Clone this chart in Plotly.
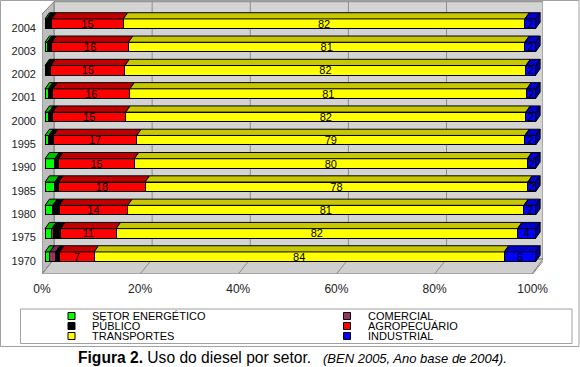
import plotly.graph_objects as go

# ---------------- data ----------------
years = ["1970", "1975", "1980", "1985", "1990", "1995", "2000", "2001", "2002", "2003", "2004"]
setor_energetico = [1.0, 1.4, 1.6, 2.0, 2.0, 0.8, 0.8, 0.7, 0.0, 0.5, 0.35]
comercial = [1.2, 0.3, 0, 0, 0, 0, 0, 0, 0, 0, 0]
publico = [0.8, 1.5, 1.3, 0.8, 0.8, 0.9, 0.75, 0.9, 1.2, 0.9, 1.0]
agropecuario = [7.0, 11.3, 13.95, 17.6, 15.4, 17.0, 14.9, 15.7, 15.1, 15.6, 14.6]
transportes = [83.6, 81.8, 80.75, 78.0, 80.1, 79.1, 81.55, 80.9, 81.7, 80.8, 81.85]
industrial = [6.4, 3.7, 2.4, 1.6, 1.7, 2.2, 2.0, 1.8, 2.0, 2.2, 2.2]
x_ticks = [0, 20, 40, 60, 80, 100]
x_tick_labels = ["0%", "20%", "40%", "60%", "80%", "100%"]

FONT = "Liberation Sans, Arial, sans-serif"

series = [
    ("SETOR ENERGÉTICO", setor_energetico, "#00ff00", "#00c000", False),
    ("COMERCIAL", comercial, "#993366", "#7a2952", False),
    ("PÚBLICO", publico, "#000000", "#000000", False),
    ("AGROPECUÁRIO", agropecuario, "#ff0000", "#c00000", True),
    ("TRANSPORTES", transportes, "#ffff00", "#c8c800", True),
    ("INDUSTRIAL", industrial, "#0000ff", "#0000c8", True),
]

# geometry (pixels -> axis units)
W, H = 580, 367
L, R, T, B = 42, 543, 1, 274
XMIN, XMAX = -0.611, 101.49
YMIN, YMAX = -0.742, 10.974
BW = 0.41      # front face thickness
DX = 0.9       # depth offset along x
DY = 0.266     # depth offset along y
WX0, WX1 = -0.611, 1.834   # wall front / back x
FY0, FY1 = -0.742, -0.099  # floor front / back y
WTOP_F, WTOP_B = 10.416, 10.944
XFRONT100 = 99.25

def px(x):
    return (x - L) / (R - L)

def py(y):
    return (B - y) / (B - T)

pos = list(range(len(years)))

fig = go.Figure()
cum = [0.0] * len(years)
tops = []
for name, vals, col, tcol, lab in series:
    fig.add_trace(go.Bar(
        y=pos, x=vals, orientation="h", width=BW, name=name, showlegend=False,
        marker=dict(color=col, line=dict(color="black", width=1)),
        text=[f"{v:.0f}" for v in vals] if lab else None,
        textposition="inside", insidetextanchor="middle", constraintext="none",
        textangle=0, textfont=dict(size=11, color="black", family=FONT),
        hovertemplate=name + ": %{x}%<extra></extra>",
    ))
    xs, ys = [], []
    for i, v in enumerate(vals):
        if v <= 0:
            continue
        x0 = cum[i]
        x1 = cum[i] + v
        yt = pos[i] + BW / 2
        xs += [x0, x1, x1 + DX, x0 + DX, x0, None]
        ys += [yt, yt, yt + DY, yt + DY, yt, None]
        cum[i] = x1
    tops.append(go.Scatter(x=xs, y=ys, fill="toself", fillcolor=tcol, mode="lines",
                           line=dict(color="black", width=1), hoverinfo="skip", showlegend=False))

# right side face of the last segment
sx, sy = [], []
for i in pos:
    yb = pos[i] - BW / 2
    yt = pos[i] + BW / 2
    xe = cum[i]
    sx += [xe, xe + DX, xe + DX, xe, xe, None]
    sy += [yb, yb + DY, yt + DY, yt, yb, None]
tops.append(go.Scatter(x=sx, y=sy, fill="toself", fillcolor="#00009a", mode="lines",
                       line=dict(color="black", width=1), hoverinfo="skip", showlegend=False))
for t in tops:
    fig.add_trace(t)

shapes = []
wall_line = dict(color="#808080", width=1)
# back wall
shapes.append(dict(type="rect", xref="x", yref="y", x0=WX1, x1=XMAX, y0=FY1, y1=WTOP_B,
                   fillcolor="#d4d4d4", line=wall_line, layer="below"))
# left wall
shapes.append(dict(type="path", xref="x", yref="y", layer="below",
                   path=f"M{WX0},{WTOP_F} L{WX1},{WTOP_B} L{WX1},{FY1} L{WX0},{FY0} Z",
                   fillcolor="#bdbdbd", line=wall_line))
# floor
shapes.append(dict(type="path", xref="x", yref="y", layer="below",
                   path=f"M{WX0},{FY0} L{WX1},{FY1} L{XMAX},{FY1} L{XFRONT100},{FY0} Z",
                   fillcolor="#cfcfcf", line=wall_line))
# gridlines on back wall and floor
for t in x_ticks:
    if 0 < t < 100:
        shapes.append(dict(type="line", xref="x", yref="y", layer="below",
                           x0=WX1 + t, x1=WX1 + t, y0=FY1, y1=WTOP_B,
                           line=dict(color="#8c8c8c", width=1)))
    shapes.append(dict(type="line", xref="x", yref="y", layer="below",
                       x0=WX0 + t, x1=WX1 + t, y0=FY0, y1=FY1,
                       line=dict(color="#8c8c8c", width=1)))

# outer frame
shapes.append(dict(type="rect", xref="paper", yref="paper",
                   x0=px(0.5), x1=px(579), y0=py(0.5), y1=py(346.5),
                   line=dict(color="#a0a0a0", width=1), fillcolor="rgba(0,0,0,0)"))
# legend box
shapes.append(dict(type="rect", xref="paper", yref="paper",
                   x0=px(20.5), x1=px(572), y0=py(309), y1=py(343.5),
                   line=dict(color="#a0a0a0", width=1), fillcolor="rgba(0,0,0,0)"))

annotations = []
legend_cols = [
    ["SETOR ENERGÉTICO", "PÚBLICO", "TRANSPORTES"],
    ["COMERCIAL", "AGROPECUÁRIO", "INDUSTRIAL"],
]
col_of = {s[0]: s[2] for s in series}
col_x = [(71.5, 91), (347, 366.5)]
row_y = [316, 326, 336]
for c, names in enumerate(legend_cols):
    mx, tx = col_x[c]
    for r, nm in enumerate(names):
        yy = row_y[r]
        shapes.append(dict(type="rect", xref="paper", yref="paper",
                           x0=px(mx - 3.5), x1=px(mx + 3.5), y0=py(yy - 3.5), y1=py(yy + 3.5),
                           fillcolor=col_of[nm], line=dict(color="black", width=1)))
        annotations.append(dict(xref="paper", yref="paper", x=px(tx), y=py(yy),
                                xanchor="left", yanchor="middle", showarrow=False, text=nm,
                                borderpad=0,
                                font=dict(size=11, color="black", family=FONT)))

annotations.append(dict(xref="paper", yref="paper", x=px(76), y=py(357.5),
                        xanchor="left", yanchor="middle", showarrow=False,
                        text="<b>Figura 2.</b> Uso do diesel por setor.",
                        font=dict(size=15.6, color="black", family=FONT)))
annotations.append(dict(xref="paper", yref="paper", x=px(321), y=py(358),
                        xanchor="left", yanchor="middle", showarrow=False,
                        text="<i>(BEN 2005, Ano base de 2004).</i>",
                        font=dict(size=13, color="black", family=FONT)))

fig.update_layout(
    width=W, height=H,
    margin=dict(l=L, r=W - R, t=T, b=H - B, pad=0),
    paper_bgcolor="white", plot_bgcolor="white",
    barmode="stack", showlegend=False,
    font=dict(family=FONT, color="#222"),
    shapes=shapes, annotations=annotations,
    xaxis=dict(range=[XMIN, XMAX], tickvals=x_ticks, ticktext=x_tick_labels,
               showgrid=False, zeroline=False, showline=False, ticks="",
               ticklabelshift=-3, ticklabelstandoff=6,
               tickfont=dict(size=12, color="#222", family=FONT), automargin=False, fixedrange=True),
    yaxis=dict(range=[YMIN, YMAX], tickvals=[p - 0.17 for p in pos], ticktext=years,
               showgrid=False, zeroline=False, showline=False, ticks="",
               ticklabelstandoff=5,
               tickfont=dict(size=11, color="#222", family=FONT), automargin=False, fixedrange=True),
)

fig.write_html("out.html", config={"displayModeBar": False},
               post_script="document.body.style.margin='0';document.body.style.padding='0';")
